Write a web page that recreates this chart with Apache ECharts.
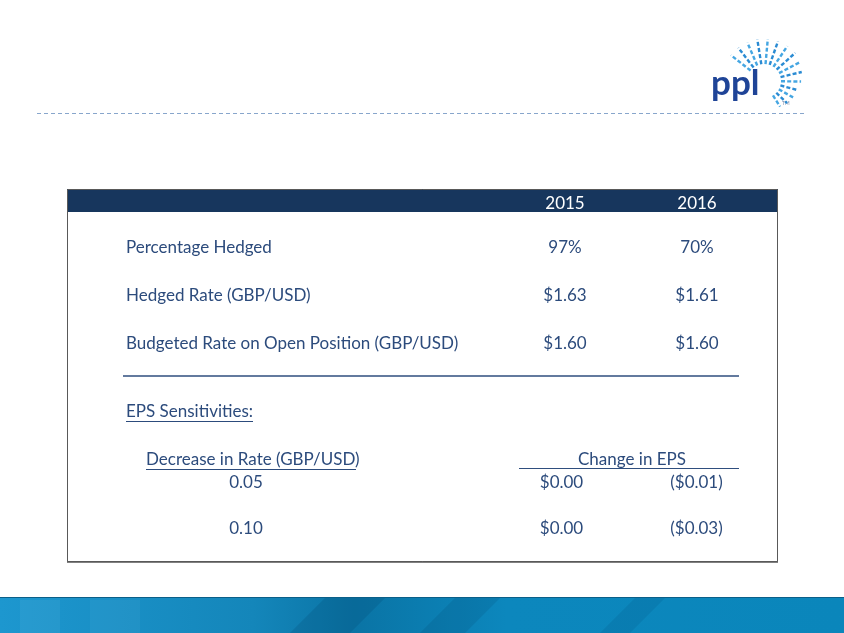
<!DOCTYPE html>
<html>
<head>
<meta charset="utf-8">
<script src="https://cdn.jsdelivr.net/npm/echarts@6/dist/echarts.min.js"></script>
<style>
  html, body { margin: 0; padding: 0; background: #fff; }
  #main { width: 844px; height: 633px; }
</style>
</head>
<body>
<div id="main"></div>
<script>
// 表格数据
var years = ['2015', '2016'];
var rowLabels = ['Percentage Hedged', 'Hedged Rate (GBP/USD)', 'Budgeted Rate on Open Position (GBP/USD)'];
var pctHedged = [97, 70];
var hedgedRate = [1.63, 1.61];
var budgetedRate = [1.60, 1.60];

// EPS 敏感度
var rateDecreases = ['0.05', '0.10'];
var epsChange2015 = [0.00, 0.00];
var epsChange2016 = [-0.01, -0.03];

var FONT = 'Lato, "Noto Sans", sans-serif';
var TEXT_COLOR = '#2c4b7c';

var topData = [];
years.forEach(function (y, i) {
  topData.push([i, 0, pctHedged[i]]);
  topData.push([i, 1, hedgedRate[i]]);
  topData.push([i, 2, budgetedRate[i]]);
});
var epsData = [];
rateDecreases.forEach(function (r, j) {
  epsData.push([0, j, epsChange2015[j]]);
  epsData.push([1, j, epsChange2016[j]]);
});

function money(v) {
  var s = '$' + Math.abs(v).toFixed(2);
  return v < 0 ? '(' + s + ')' : s;
}

// logo 光线（装饰）
var rays = [];
var cx = 764, cy = 81;
var nRays = 15;
for (var k = 0; k < nRays; k++) {
  var deg = -142 + k * (200 / (nRays - 1));
  var a = deg * Math.PI / 180;
  var r0 = 17;
  var r1 = 42 - 12 * Math.max(0, (deg + 40) / 100);
  rays.push({
    type: 'line',
    shape: { x1: cx + r0 * Math.cos(a), y1: cy + r0 * Math.sin(a), x2: cx + r1 * Math.cos(a), y2: cy + r1 * Math.sin(a) },
    style: { stroke: k % 2 ? '#2a8bd3' : '#45a6e2', lineWidth: 2.4, lineDash: [4, 2.2] },
    z: 5
  });
}

var valueLabel = {
  show: true, position: 'inside', color: TEXT_COLOR, fontSize: 17, fontFamily: FONT,
  textBorderWidth: 0, opacity: 1
};

var chart = echarts.init(document.getElementById('main'));
var option = {
  animation: false,
  textStyle: { fontFamily: FONT },
  grid: [
    { left: 499, top: 223.5, width: 264, height: 144 },
    { left: 494, top: 460, width: 270, height: 92 }
  ],
  xAxis: [{
    gridIndex: 0, type: 'category', data: years, position: 'top',
    axisLine: { show: false }, axisTick: { show: false },
    axisLabel: { color: '#ffffff', fontSize: 17, fontFamily: FONT, margin: 11 }
  }, {
    gridIndex: 1, type: 'category', data: years, show: false
  }],
  yAxis: [{
    gridIndex: 0, type: 'category', data: rowLabels, inverse: true,
    axisLine: { show: false }, axisTick: { show: false }, splitLine: { show: false },
    axisLabel: { color: TEXT_COLOR, fontSize: 17, fontFamily: FONT, align: 'left', margin: 373 }
  }, {
    gridIndex: 1, type: 'category', data: rateDecreases, inverse: true,
    axisLine: { show: false }, axisTick: { show: false }, splitLine: { show: false },
    axisLabel: { color: TEXT_COLOR, fontSize: 17, fontFamily: FONT, align: 'center', margin: 248 }
  }],
  series: [{
    type: 'scatter', xAxisIndex: 0, yAxisIndex: 0, data: topData,
    symbolSize: 1, itemStyle: { color: '#ffffff', opacity: 1 },
    label: Object.assign({}, valueLabel, {
      formatter: function (p) {
        return p.value[1] === 0 ? p.value[2] + '%' : money(p.value[2]);
      }
    }),
    emphasis: { disabled: true }
  }, {
    type: 'scatter', xAxisIndex: 1, yAxisIndex: 1, data: epsData,
    symbolSize: 1, itemStyle: { color: '#ffffff', opacity: 1 },
    label: Object.assign({}, valueLabel, {
      formatter: function (p) { return money(p.value[2]); }
    }),
    emphasis: { disabled: true }
  }],
  graphic: [
    // 顶部虚线
    { type: 'line', shape: { x1: 37, y1: 113.5, x2: 805, y2: 113.5 }, style: { stroke: '#88a6cc', lineWidth: 1, lineDash: [4, 3] } },
    // logo
    { type: 'text', x: 711, y: 101, style: { text: 'ppl', fontSize: 35, fontWeight: 'bold', fontFamily: FONT, fill: '#1f4497', verticalAlign: 'bottom' }, z: 6 },
    { type: 'text', x: 782, y: 101, style: { text: 'TM', fontSize: 5, fontFamily: FONT, fill: '#7a8aa8' } },
    { type: 'group', children: rays },
    // 表格外框与表头
    { type: 'rect', shape: { x: 67.5, y: 189.5, width: 710, height: 372 }, style: { fill: 'none', stroke: '#595959', lineWidth: 1 }, z: 1 },
    { type: 'rect', shape: { x: 67, y: 189, width: 711, height: 23 }, style: { fill: '#17365d' }, z: 0 },
    { type: 'line', shape: { x1: 67, y1: 562, x2: 778, y2: 562 }, style: { stroke: '#808080', lineWidth: 2 } },
    // 分隔线
    { type: 'line', shape: { x1: 123, y1: 376, x2: 739, y2: 376 }, style: { stroke: '#2f4e7e', lineWidth: 1.5 } },
    // EPS 部分标题
    { type: 'text', x: 126, y: 412, style: { text: 'EPS Sensitivities:', fontSize: 17, fontFamily: FONT, fill: TEXT_COLOR, verticalAlign: 'middle' } },
    { type: 'line', shape: { x1: 126, y1: 421.5, x2: 253, y2: 421.5 }, style: { stroke: TEXT_COLOR, lineWidth: 1 } },
    { type: 'text', x: 146, y: 460, style: { text: 'Decrease in Rate (GBP/USD)', fontSize: 17, fontFamily: FONT, fill: TEXT_COLOR, verticalAlign: 'middle' } },
    { type: 'line', shape: { x1: 146, y1: 469.5, x2: 356, y2: 469.5 }, style: { stroke: TEXT_COLOR, lineWidth: 1 } },
    { type: 'text', x: 632, y: 460, style: { text: 'Change in EPS', fontSize: 17, fontFamily: FONT, fill: TEXT_COLOR, align: 'center', verticalAlign: 'middle' } },
    { type: 'line', shape: { x1: 519, y1: 468.5, x2: 739, y2: 468.5 }, style: { stroke: '#2f4e7e', lineWidth: 1.2 } },
    // 底部蓝色条
    {
      type: 'rect', shape: { x: 0, y: 597, width: 844, height: 36 },
      style: {
        fill: new echarts.graphic.LinearGradient(0, 0, 1, 0, [
          { offset: 0, color: '#1d97cf' },
          { offset: 0.3, color: '#1486ba' },
          { offset: 0.42, color: '#0a74a5' },
          { offset: 0.6, color: '#0c87bd' },
          { offset: 1, color: '#0a86bb' }
        ])
      }
    },
    { type: 'polygon', shape: { points: [[290, 633], [325, 598], [385, 598], [350, 633]] }, style: { fill: 'rgba(0,60,100,0.18)' } },
    { type: 'polygon', shape: { points: [[420, 633], [455, 598], [500, 598], [465, 633]] }, style: { fill: 'rgba(0,60,100,0.15)' } },
    { type: 'polygon', shape: { points: [[600, 633], [635, 598], [665, 598], [630, 633]] }, style: { fill: 'rgba(0,60,100,0.12)' } },
    { type: 'polygon', shape: { points: [[20, 600], [60, 600], [60, 633], [20, 633]] }, style: { fill: 'rgba(255,255,255,0.05)' } },
    { type: 'polygon', shape: { points: [[90, 600], [140, 600], [140, 633], [90, 633]] }, style: { fill: 'rgba(255,255,255,0.04)' } },
    { type: 'line', shape: { x1: 0, y1: 597.5, x2: 844, y2: 597.5 }, style: { stroke: '#0b5f88', lineWidth: 1 } }
  ]
};
chart.setOption(option);
</script>
</body>
</html>
